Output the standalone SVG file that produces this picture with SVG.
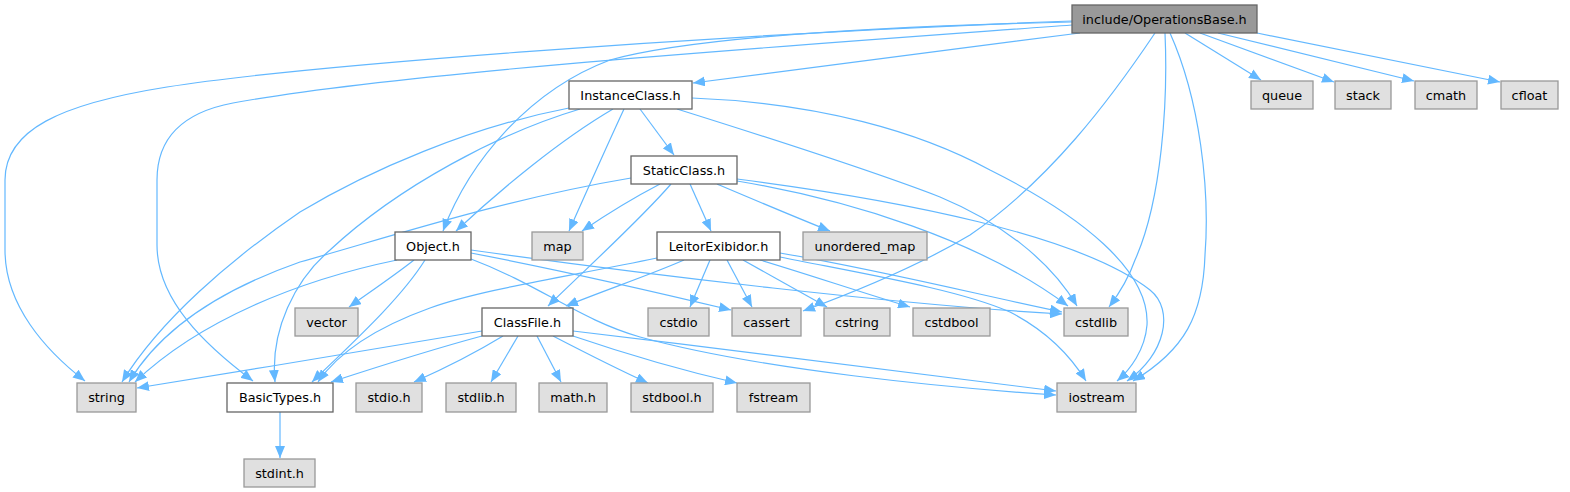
<svg xmlns="http://www.w3.org/2000/svg" width="1570" height="492" viewBox="0 0 1570 492">
<defs>
<style>
.e{fill:none;stroke:#63b8ff;stroke-width:1.2;marker-end:url(#ah)}
.n rect{fill:#ffffff;stroke:#666666;stroke-width:1.3}
.s rect{fill:#e0e0e0;stroke:#999999;stroke-width:1.3}
.r rect{fill:#999999;stroke:#666666;stroke-width:1.3}
text{font-family:"DejaVu Sans","Liberation Sans",sans-serif;font-size:12.8px;fill:#000000;text-anchor:middle}
</style>
<marker id="ah" markerUnits="userSpaceOnUse" markerWidth="12" markerHeight="10" viewBox="0 0 12 10" refX="12" refY="5" orient="auto">
<path d="M0,0 L12,5 L0,10 Z" fill="#63b8ff"/>
</marker>
</defs>
<rect width="1570" height="492" fill="#ffffff"/>
<g id="edges">
<path class="e" d="M1072,21 C700,35 300,66 167,87 C60,104 5,130 5,180 L5,250 C5,305 45,350 85,381"/>
<path class="e" d="M1072,25 C800,45 400,72 233,103 C180,113 157,140 157,180 L157,245 C157,300 205,345 253,381"/>
<path class="e" d="M1072,22 C900,26 700,35 610,60 C530,90 470,160 443,231"/>
<path class="e" d="M1080,33 C950,50 800,68 693,83"/>
<path class="e" d="M1155,33 C1110,100 1050,180 970,235 C920,265 860,290 803,311"/>
<path class="e" d="M1165,33 C1168,100 1162,200 1135,260 C1128,280 1118,295 1109,307"/>
<path class="e" d="M1170,33 C1200,100 1210,190 1205,255 C1203,315 1185,350 1133,381"/>
<path class="e" d="M1185,33 L1261,80"/>
<path class="e" d="M1200,33 L1334,82"/>
<path class="e" d="M1218,33 L1414,81"/>
<path class="e" d="M1257,33 L1500,82"/>
<path class="e" d="M569,108 C470,127 370,170 300,212 C230,260 160,320 122,382"/>
<path class="e" d="M580,109 C500,133 400,185 330,250 C295,280 270,330 275,382"/>
<path class="e" d="M613,109 C560,140 500,190 456,231"/>
<path class="e" d="M624,109 C605,150 585,195 569,231"/>
<path class="e" d="M640,109 L674,155"/>
<path class="e" d="M677,109 C760,135 870,170 940,197 C1000,222 1050,260 1077,306"/>
<path class="e" d="M692,98 C820,103 920,132 990,170 C1080,215 1150,270 1147,325 C1145,350 1130,370 1117,381"/>
<path class="e" d="M631,178 C500,200 380,240 300,262 C220,290 160,330 129,382"/>
<path class="e" d="M660,184 C635,197 610,212 582,231"/>
<path class="e" d="M671,184 C640,220 590,265 548,306"/>
<path class="e" d="M690,184 L711,231"/>
<path class="e" d="M717,184 C750,198 790,215 830,231"/>
<path class="e" d="M737,181 C850,200 980,240 1068,306"/>
<path class="e" d="M737,179 C900,200 1080,235 1150,290 C1175,310 1165,355 1127,381"/>
<path class="e" d="M397,260 C300,280 200,320 135,382"/>
<path class="e" d="M414,260 C395,275 370,292 349,307"/>
<path class="e" d="M425,260 C400,300 350,345 312,382"/>
<path class="e" d="M471,253 C560,270 660,293 731,310"/>
<path class="e" d="M471,250 C650,275 900,305 1062,314"/>
<path class="e" d="M471,259 C540,285 580,320 640,337 C760,370 950,388 1056,395"/>
<path class="e" d="M657,258 C560,278 480,290 430,308 C380,326 340,350 318,382"/>
<path class="e" d="M684,260 C650,275 605,290 566,306"/>
<path class="e" d="M710,260 L690,307"/>
<path class="e" d="M727,260 L752,307"/>
<path class="e" d="M743,260 C770,275 800,292 827,307"/>
<path class="e" d="M760,260 C810,275 860,292 910,307"/>
<path class="e" d="M780,253 C880,270 980,295 1062,312"/>
<path class="e" d="M780,257 C870,275 960,290 1010,312 C1045,330 1070,355 1086,381"/>
<path class="e" d="M482,331 C380,348 250,370 137,388"/>
<path class="e" d="M482,336 C430,350 380,366 331,382"/>
<path class="e" d="M503,336 C480,350 450,366 414,382"/>
<path class="e" d="M518,336 L491,382"/>
<path class="e" d="M537,336 L561,382"/>
<path class="e" d="M553,336 C580,350 615,368 648,383"/>
<path class="e" d="M573,336 C620,352 680,370 737,383"/>
<path class="e" d="M573,331 C750,352 950,378 1056,391"/>
<path class="e" d="M280,412 L280,458"/>
</g>
<g id="node-root" class="r"><rect x="1072" y="5" width="185" height="28"/><text x="1164.5" y="23.5">include/OperationsBase.h</text></g>
<g id="node-queue" class="s"><rect x="1251" y="81" width="62" height="28"/><text x="1282" y="99.5">queue</text></g>
<g id="node-stack" class="s"><rect x="1335" y="81" width="56" height="28"/><text x="1363" y="99.5">stack</text></g>
<g id="node-cmath" class="s"><rect x="1415" y="81" width="62" height="28"/><text x="1446" y="99.5">cmath</text></g>
<g id="node-cfloat" class="s"><rect x="1501" y="81" width="57" height="28"/><text x="1529.5" y="99.5">cfloat</text></g>
<g id="node-instanceclass" class="n"><rect x="569" y="81" width="123" height="28"/><text x="630.5" y="99.5">InstanceClass.h</text></g>
<g id="node-staticclass" class="n"><rect x="631" y="156" width="106" height="28"/><text x="684" y="174.5">StaticClass.h</text></g>
<g id="node-map" class="s"><rect x="532" y="232" width="51" height="28"/><text x="557.5" y="250.5">map</text></g>
<g id="node-leitorexibidor" class="n"><rect x="657" y="232" width="123" height="28"/><text x="718.5" y="250.5">LeitorExibidor.h</text></g>
<g id="node-unordered_map" class="s"><rect x="803" y="232" width="124" height="28"/><text x="865" y="250.5">unordered_map</text></g>
<g id="node-object" class="n"><rect x="395" y="232" width="76" height="28"/><text x="433" y="250.5">Object.h</text></g>
<g id="node-vector" class="s"><rect x="295" y="308" width="63" height="28"/><text x="326.5" y="326.5">vector</text></g>
<g id="node-classfile" class="n"><rect x="482" y="308" width="91" height="28"/><text x="527.5" y="326.5">ClassFile.h</text></g>
<g id="node-cstdio" class="s"><rect x="648" y="308" width="61" height="28"/><text x="678.5" y="326.5">cstdio</text></g>
<g id="node-cassert" class="s"><rect x="732" y="308" width="69" height="28"/><text x="766.5" y="326.5">cassert</text></g>
<g id="node-cstring" class="s"><rect x="824" y="308" width="66" height="28"/><text x="857" y="326.5">cstring</text></g>
<g id="node-cstdbool" class="s"><rect x="913" y="308" width="77" height="28"/><text x="951.5" y="326.5">cstdbool</text></g>
<g id="node-cstdlib" class="s"><rect x="1064" y="308" width="64" height="28"/><text x="1096" y="326.5">cstdlib</text></g>
<g id="node-string" class="s"><rect x="77" y="383" width="59" height="29"/><text x="106.5" y="402">string</text></g>
<g id="node-basictypes" class="n"><rect x="227" y="383" width="106" height="29"/><text x="280" y="402">BasicTypes.h</text></g>
<g id="node-stdio" class="s"><rect x="356" y="383" width="66" height="29"/><text x="389" y="402">stdio.h</text></g>
<g id="node-stdlib" class="s"><rect x="446" y="383" width="70" height="29"/><text x="481" y="402">stdlib.h</text></g>
<g id="node-math" class="s"><rect x="539" y="383" width="68" height="29"/><text x="573" y="402">math.h</text></g>
<g id="node-stdbool" class="s"><rect x="631" y="383" width="82" height="29"/><text x="672" y="402">stdbool.h</text></g>
<g id="node-fstream" class="s"><rect x="737" y="383" width="73" height="29"/><text x="773.5" y="402">fstream</text></g>
<g id="node-iostream" class="s"><rect x="1057" y="383" width="79" height="29"/><text x="1096.5" y="402">iostream</text></g>
<g id="node-stdint" class="s"><rect x="244" y="459" width="71" height="28"/><text x="279.5" y="477.5">stdint.h</text></g>
</svg>
